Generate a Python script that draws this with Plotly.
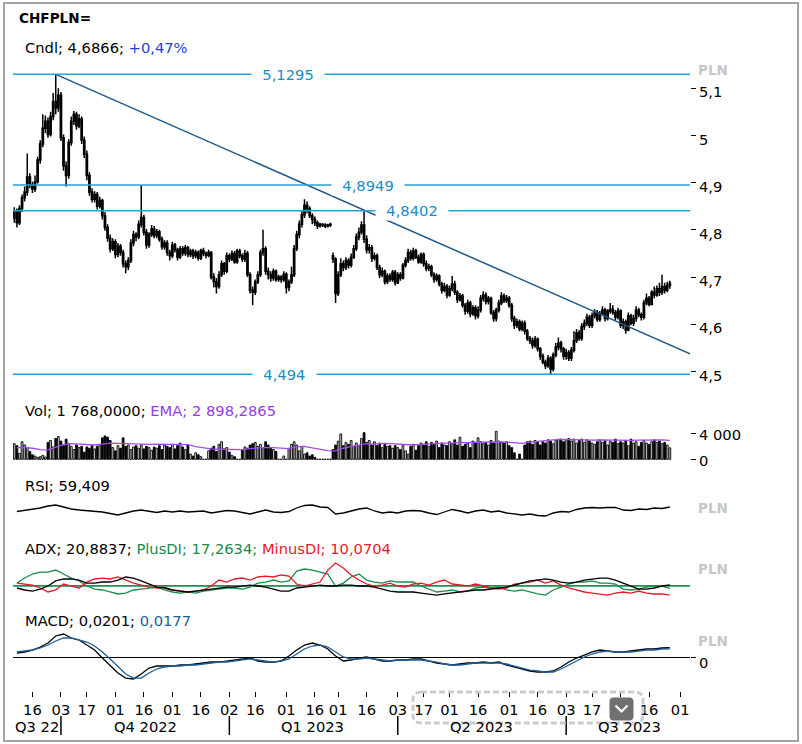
import pandas as pd
import plotly.graph_objects as go
from plotly.subplots import make_subplots

W, H = 802, 744

# ---------------- data ----------------
dates = pd.bdate_range("2022-09-07", "2023-08-28")

open_ = [
4.825,4.838,4.815,4.846,4.868,4.880,4.912,4.895,4.886,4.902,
4.948,4.982,5.015,5.030,5.002,5.040,5.072,5.058,5.085,4.995,
4.935,4.915,4.985,5.030,5.045,5.020,5.035,4.990,4.960,4.915,
4.880,4.865,4.875,4.850,4.862,4.830,4.805,4.782,4.760,4.775,
4.748,4.765,4.752,4.728,4.722,4.735,4.772,4.790,4.785,4.812,
4.826,4.795,4.768,4.790,4.802,4.788,4.796,4.780,4.764,4.772,
4.752,4.745,4.768,4.758,4.742,4.760,4.751,4.762,4.748,4.755,
4.745,4.752,4.740,4.756,4.750,4.746,4.752,4.700,4.690,4.680,
4.705,4.728,4.712,4.745,4.738,4.750,4.732,4.755,4.745,4.738,
4.750,4.705,4.672,4.668,4.690,4.705,4.752,4.760,4.712,4.705,
4.698,4.712,4.695,4.700,4.694,4.706,4.678,4.690,4.705,4.760,
4.790,4.812,4.832,4.852,4.845,4.830,4.822,4.815,4.808,4.812,
4.810,4.808,4.810,4.745,4.738,4.665,4.705,4.728,4.720,4.735,
4.725,4.742,4.760,4.785,4.795,4.810,4.780,4.758,4.762,4.740,
4.745,4.720,4.705,4.712,4.690,4.702,4.695,4.710,4.688,4.705,
4.698,4.725,4.735,4.752,4.740,4.755,4.742,4.732,4.748,4.728,
4.718,4.722,4.705,4.695,4.702,4.685,4.672,4.680,4.662,4.675,
4.685,4.668,4.652,4.660,4.640,4.628,4.645,4.622,4.635,4.618,
4.630,4.655,4.662,4.648,4.655,4.625,4.612,4.630,4.645,4.660,
4.650,4.655,4.640,4.612,4.598,4.605,4.590,4.602,4.585,4.570,
4.565,4.555,4.568,4.548,4.532,4.520,4.512,4.528,4.505,4.535,
4.552,4.560,4.548,4.532,4.540,4.528,4.545,4.565,4.582,4.570,
4.595,4.602,4.615,4.598,4.618,4.625,4.610,4.622,4.630,4.612,
4.628,4.632,4.625,4.615,4.628,4.598,4.605,4.588,4.618,4.602,
4.612,4.630,4.620,4.615,4.645,4.655,4.642,4.668,4.662,4.675,
4.668,4.680,4.672,4.682]

high = [
4.848,4.845,4.852,4.875,4.892,4.962,4.920,4.902,4.915,4.955,
4.990,5.045,5.042,5.038,5.050,5.090,5.1295,5.100,5.092,5.002,
4.945,4.992,5.040,5.052,5.050,5.045,5.040,4.998,4.968,4.922,
4.888,4.882,4.880,4.870,4.866,4.838,4.812,4.790,4.782,4.780,
4.772,4.770,4.758,4.735,4.742,4.780,4.798,4.795,4.820,4.8949,
4.832,4.802,4.795,4.810,4.808,4.802,4.800,4.786,4.778,4.778,
4.758,4.775,4.772,4.762,4.766,4.765,4.768,4.766,4.760,4.760,
4.758,4.756,4.760,4.762,4.754,4.758,4.755,4.708,4.698,4.712,
4.735,4.732,4.752,4.750,4.756,4.755,4.760,4.760,4.750,4.758,
4.755,4.710,4.680,4.695,4.712,4.758,4.800,4.765,4.720,4.712,
4.718,4.716,4.705,4.704,4.712,4.710,4.695,4.722,4.768,4.798,
4.820,4.840,4.865,4.860,4.850,4.835,4.828,4.820,4.815,4.814,
4.814,4.813,4.815,4.752,4.742,4.712,4.740,4.735,4.742,4.740,
4.750,4.768,4.792,4.805,4.818,4.8402,4.788,4.770,4.768,4.752,
4.750,4.726,4.720,4.716,4.708,4.708,4.715,4.715,4.710,4.710,
4.730,4.742,4.760,4.758,4.762,4.760,4.748,4.752,4.752,4.735,
4.728,4.726,4.710,4.708,4.706,4.690,4.688,4.685,4.682,4.702,
4.692,4.672,4.666,4.664,4.645,4.652,4.650,4.640,4.640,4.638,
4.662,4.670,4.668,4.660,4.658,4.630,4.635,4.652,4.668,4.665,
4.662,4.660,4.645,4.618,4.612,4.610,4.608,4.608,4.590,4.575,
4.572,4.575,4.572,4.552,4.538,4.525,4.535,4.532,4.540,4.560,
4.572,4.565,4.552,4.548,4.545,4.552,4.585,4.590,4.588,4.602,
4.610,4.622,4.620,4.625,4.632,4.630,4.628,4.638,4.635,4.632,
4.645,4.640,4.630,4.635,4.632,4.612,4.610,4.625,4.622,4.620,
4.638,4.635,4.625,4.652,4.665,4.660,4.672,4.680,4.682,4.688,
4.705,4.688,4.690,4.692]

low = [
4.815,4.805,4.810,4.838,4.860,4.872,4.888,4.878,4.880,4.898,
4.940,4.975,5.005,4.995,4.998,5.032,5.045,5.050,4.988,4.925,
4.892,4.908,4.978,5.022,5.012,5.015,4.982,4.952,4.905,4.872,
4.858,4.858,4.843,4.845,4.822,4.798,4.775,4.752,4.755,4.740,
4.742,4.745,4.720,4.708,4.715,4.730,4.765,4.776,4.780,4.805,
4.788,4.760,4.762,4.785,4.782,4.782,4.775,4.758,4.758,4.745,
4.735,4.740,4.752,4.735,4.738,4.745,4.745,4.742,4.742,4.738,
4.740,4.735,4.736,4.744,4.740,4.742,4.695,4.678,4.665,4.675,
4.700,4.705,4.708,4.732,4.734,4.728,4.728,4.740,4.732,4.732,
4.700,4.665,4.640,4.662,4.685,4.700,4.745,4.705,4.695,4.690,
4.692,4.690,4.690,4.688,4.690,4.665,4.670,4.685,4.700,4.755,
4.782,4.805,4.825,4.835,4.825,4.812,4.808,4.802,4.805,4.806,
4.804,4.805,4.806,4.730,4.645,4.660,4.700,4.712,4.715,4.718,
4.720,4.738,4.755,4.778,4.790,4.772,4.750,4.750,4.732,4.735,
4.715,4.698,4.700,4.684,4.685,4.690,4.690,4.682,4.685,4.692,
4.695,4.720,4.730,4.735,4.735,4.738,4.728,4.728,4.722,4.712,
4.712,4.700,4.688,4.690,4.680,4.665,4.668,4.655,4.658,4.670,
4.662,4.645,4.648,4.635,4.620,4.622,4.615,4.618,4.610,4.612,
4.625,4.648,4.642,4.642,4.620,4.605,4.606,4.625,4.640,4.645,
4.645,4.635,4.605,4.590,4.592,4.585,4.585,4.578,4.565,4.558,
4.548,4.550,4.542,4.525,4.515,4.505,4.508,4.494,4.500,4.530,
4.545,4.540,4.525,4.525,4.522,4.522,4.540,4.560,4.565,4.565,
4.588,4.596,4.592,4.592,4.612,4.605,4.605,4.618,4.606,4.608,
4.622,4.620,4.608,4.610,4.592,4.590,4.580,4.585,4.598,4.596,
4.605,4.615,4.608,4.610,4.640,4.638,4.640,4.655,4.658,4.660,
4.662,4.665,4.668,4.675]

close = [
4.838,4.815,4.846,4.868,4.880,4.912,4.895,4.886,4.902,4.948,
4.982,5.015,5.030,5.002,5.040,5.072,5.058,5.085,4.995,4.935,
4.915,4.985,5.030,5.045,5.020,5.035,4.990,4.960,4.915,4.880,
4.865,4.875,4.850,4.862,4.830,4.805,4.782,4.760,4.775,4.748,
4.765,4.752,4.728,4.722,4.735,4.772,4.790,4.785,4.812,4.826,
4.795,4.768,4.790,4.802,4.788,4.796,4.780,4.764,4.772,4.752,
4.745,4.768,4.758,4.742,4.760,4.751,4.762,4.748,4.755,4.745,
4.752,4.740,4.756,4.750,4.746,4.752,4.700,4.690,4.680,4.705,
4.728,4.712,4.745,4.738,4.750,4.732,4.755,4.745,4.738,4.750,
4.705,4.672,4.668,4.690,4.705,4.752,4.760,4.712,4.705,4.698,
4.712,4.695,4.700,4.694,4.706,4.678,4.690,4.705,4.760,4.790,
4.812,4.832,4.852,4.845,4.830,4.822,4.815,4.808,4.812,4.810,
4.808,4.810,4.812,4.738,4.665,4.705,4.728,4.720,4.735,4.725,
4.742,4.760,4.785,4.795,4.810,4.780,4.758,4.762,4.740,4.745,
4.720,4.705,4.712,4.690,4.702,4.695,4.710,4.688,4.705,4.698,
4.725,4.735,4.752,4.740,4.755,4.742,4.732,4.748,4.728,4.718,
4.722,4.705,4.695,4.702,4.685,4.672,4.680,4.662,4.675,4.685,
4.668,4.652,4.660,4.640,4.628,4.645,4.622,4.635,4.618,4.630,
4.655,4.662,4.648,4.655,4.625,4.612,4.630,4.645,4.660,4.650,
4.655,4.640,4.612,4.598,4.605,4.590,4.602,4.585,4.570,4.565,
4.555,4.568,4.548,4.532,4.520,4.512,4.528,4.505,4.535,4.552,
4.560,4.548,4.532,4.540,4.528,4.545,4.565,4.582,4.570,4.595,
4.602,4.615,4.598,4.618,4.625,4.610,4.622,4.630,4.612,4.628,
4.632,4.625,4.615,4.628,4.598,4.605,4.588,4.618,4.602,4.612,
4.630,4.620,4.615,4.645,4.655,4.642,4.668,4.662,4.675,4.668,
4.680,4.672,4.682,4.687]

volume = [
2400,2100,900,2700,2200,1800,1200,700,500,300,
400,600,350,2600,2900,1900,3200,3500,2800,2100,
3100,2400,2000,1500,2200,1800,2000,1100,1900,1700,
2100,1600,2000,2300,3300,3600,3400,2900,1800,1300,
2100,1700,3300,2000,2200,1500,1900,2100,1700,2200,
1600,2000,1800,1400,1900,1700,2100,1500,2200,2000,
1800,2300,1600,2100,2500,1900,1500,2200,800,500,
1000,700,400,0,0,1300,1700,2000,1200,2300,
2700,1600,1800,1100,600,400,0,0,1500,1900,
1700,2200,2400,2600,2000,2300,1800,2700,2200,1700,
1500,1200,0,0,500,0,1700,2300,2700,2200,
1300,2000,800,1000,500,700,300,0,0,0,
0,0,0,1500,2200,2800,3900,2100,2600,2300,
2900,2000,2500,2100,3200,4100,2600,2900,2200,2700,
2100,2500,1800,2300,2000,2100,1700,2100,1800,1500,
2100,1300,800,2000,2300,1400,2100,2500,2200,2700,
2000,2600,2300,2800,1800,2500,2200,2100,2700,2400,
3000,2200,3400,2000,2300,2500,1800,2800,2600,3300,
2700,2400,2600,2200,2900,2500,4300,2800,2600,2500,
2700,2100,1800,1000,0,800,0,2200,2700,2800,
2300,2900,2600,2200,2700,2500,3000,2800,2400,2900,
3100,3100,2700,3000,3200,2800,3100,2500,2900,3100,
2600,3000,2800,2500,2300,2700,3000,2600,2900,2200,
2800,2600,3100,2400,2700,2500,2900,2100,3100,2500,
2700,2000,2600,2900,2500,2300,2700,3000,2600,2800,
2400,2600,2200,1768]

# indicator lines, read every third session
line_dates = dates[1::3]

vol_ema = [
1800,1850,1700,1500,1450,1900,2250,2400,2350,2250,
2200,2350,2500,2450,2400,2350,2400,2300,2350,2300,
2350,2300,2250,1950,1750,1600,1550,1500,1450,1500,
1650,1800,1850,1800,1750,1650,1900,2000,1750,1500,
1350,1300,1700,1950,2150,2400,2350,2450,2400,2350,
2250,2200,2300,2400,2450,2500,2500,2600,2550,2600,
2700,2650,2700,2650,2500,2450,2650,2800,2900,3000,
3050,3000,3050,3000,2950,3000,2950,3000,2950,2900,
2950,3000,3050,3000,2898]

rsi = [
50.4,52.4,55.4,57.4,61.4,63.4,59.4,55.4,53.4,52.4,
51.4,49.4,46.4,43.4,47.4,51.4,53.4,50.4,48.4,51.4,
49.4,51.4,49.4,50.4,51.4,47.4,49.4,52.4,51.4,48.4,
45.4,49.4,53.4,49.4,48.4,50.4,57.4,62.4,63.4,59.4,
58.4,45.4,47.4,51.4,55.4,57.4,51.4,47.4,49.4,47.4,
51.4,52.4,51.4,47.4,44.4,49.4,54.4,51.4,47.4,51.4,
53.4,49.4,51.4,47.4,45.4,43.4,45.4,42.4,41.4,47.4,
50.4,49.4,54.4,57.4,58.4,57.4,58.4,58.4,53.4,52.4,
55.4,54.4,57.4,56.4,59.4]

adx = [
17.7,15.6,14.5,16.6,19.8,25.1,27.2,27.2,26.1,22.9,
22.9,24.0,24.0,26.1,29.3,28.2,25.1,21.9,18.7,17.7,
15.6,14.5,13.5,14.5,15.6,16.6,17.7,18.7,18.7,19.8,
20.8,19.8,18.7,16.6,14.5,14.5,17.7,18.7,19.8,20.8,
19.8,19.8,20.8,20.8,19.8,19.8,18.7,16.6,14.5,13.5,
13.5,13.5,12.4,11.4,10.3,11.4,12.4,13.5,14.5,15.6,
15.6,16.6,17.7,18.7,20.8,22.9,25.1,26.1,27.2,26.1,
24.0,22.9,24.0,26.1,27.2,28.2,28.2,26.1,22.9,19.8,
16.6,16.6,17.7,19.8,20.9]

plus_di = [
22.9,28.2,32.4,34.5,34.5,36.6,32.4,28.2,25.1,19.8,
16.6,15.6,13.5,11.4,12.4,15.6,16.6,17.7,18.7,15.6,
13.5,12.4,13.5,12.4,14.5,15.6,16.6,17.7,17.7,16.6,
18.7,22.9,24.0,26.1,24.0,25.1,35.6,37.7,36.6,34.5,
32.4,19.8,22.9,29.3,32.4,26.1,24.0,22.9,25.1,24.0,
24.0,24.0,19.8,16.6,13.5,14.5,15.6,13.5,14.5,17.7,
18.7,17.7,18.7,15.6,14.5,15.6,13.5,11.4,10.3,15.6,
18.7,21.9,24.0,24.0,25.1,22.9,22.9,21.9,16.6,15.6,
16.6,18.7,19.8,19.8,17.3]

minus_di = [
22.9,21.9,20.8,17.7,13.5,15.6,21.9,19.8,17.7,24.0,
27.2,28.2,27.2,29.3,26.1,22.9,20.8,18.7,17.7,18.7,
15.6,14.5,13.5,14.5,15.6,19.8,26.1,24.0,27.2,28.2,
26.1,29.3,30.3,29.3,31.4,30.3,21.9,19.8,21.9,24.0,
36.6,44.0,38.8,31.4,26.1,21.9,19.8,20.8,22.9,19.8,
18.7,21.9,22.9,20.8,24.0,26.1,21.9,20.8,19.8,21.9,
19.8,17.7,16.6,17.7,21.9,22.9,24.0,26.1,22.9,25.1,
20.8,17.7,15.6,13.5,12.4,11.4,10.3,12.4,13.5,12.4,
14.5,12.4,11.4,11.4,10.1]

macd = [
0.0087,0.0109,0.0152,0.0217,0.0304,0.0457,0.0500,0.0413,0.0370,0.0261,
0.0152,-0.0022,-0.0196,-0.0348,-0.0457,-0.0478,-0.0370,-0.0239,-0.0196,-0.0196,
-0.0196,-0.0174,-0.0174,-0.0152,-0.0130,-0.0109,-0.0109,-0.0087,-0.0065,-0.0043,
-0.0022,-0.0087,-0.0109,-0.0109,-0.0087,0.0022,0.0152,0.0261,0.0304,0.0261,
0.0174,0.0022,-0.0087,-0.0065,-0.0022,0.0000,-0.0043,-0.0087,-0.0087,-0.0065,
-0.0065,-0.0043,-0.0043,-0.0087,-0.0130,-0.0152,-0.0174,-0.0152,-0.0130,-0.0130,
-0.0109,-0.0130,-0.0109,-0.0174,-0.0217,-0.0261,-0.0304,-0.0326,-0.0326,-0.0304,
-0.0217,-0.0109,-0.0022,0.0043,0.0109,0.0152,0.0130,0.0109,0.0109,0.0130,
0.0152,0.0174,0.0174,0.0196,0.0201]

macd_signal = [
0.0109,0.0130,0.0152,0.0196,0.0261,0.0348,0.0413,0.0413,0.0370,0.0326,
0.0239,0.0109,-0.0043,-0.0217,-0.0370,-0.0457,-0.0457,-0.0348,-0.0261,-0.0217,
-0.0196,-0.0196,-0.0174,-0.0174,-0.0152,-0.0130,-0.0109,-0.0109,-0.0087,-0.0065,
-0.0043,-0.0065,-0.0087,-0.0109,-0.0087,-0.0043,0.0065,0.0174,0.0239,0.0261,
0.0217,0.0109,0.0000,-0.0043,-0.0043,-0.0022,-0.0043,-0.0065,-0.0087,-0.0065,
-0.0065,-0.0065,-0.0065,-0.0087,-0.0109,-0.0152,-0.0174,-0.0174,-0.0152,-0.0130,
-0.0130,-0.0130,-0.0130,-0.0152,-0.0196,-0.0239,-0.0283,-0.0304,-0.0326,-0.0326,
-0.0261,-0.0174,-0.0087,0.0000,0.0065,0.0109,0.0130,0.0109,0.0109,0.0109,
0.0130,0.0152,0.0152,0.0174,0.0177]

levels = [5.1295, 4.8949, 4.8402, 4.494]
level_labels = ["5,1295", "4,8949", "4,8402", "4,494"]
trend_x = ["2022-09-29", "2023-09-06 19:00"]
trend_y = [5.1295, 4.5375]
adx_ref_level = 20

price_ticks = [4.5, 4.6, 4.7, 4.8, 4.9, 5.0, 5.1]
price_tick_text = ["4,5", "4,6", "4,7", "4,8", "4,9", "5", "5,1"]
vol_ticks = [0, 4000]
vol_tick_text = ["0", "4 000"]
x_tick_dates = ["2022-09-16", "2022-10-03", "2022-10-17", "2022-11-01", "2022-11-16",
                "2022-12-01", "2022-12-16", "2023-01-02", "2023-01-16", "2023-02-01",
                "2023-02-16", "2023-03-01", "2023-03-16", "2023-04-03", "2023-04-17",
                "2023-05-01", "2023-05-16", "2023-06-01", "2023-06-16", "2023-07-03",
                "2023-07-17", "2023-08-01", "2023-08-16", "2023-09-01"]
x_tick_text = ["16", "03", "17", "01", "16", "01", "16", "02", "16", "01", "16", "01",
               "16", "03", "17", "01", "16", "01", "16", "03", "17", "01", "16", "01"]
quarter_starts = ["2022-10-03", "2023-01-02", "2023-04-03", "2023-07-03"]
quarter_labels = ["Q3 22", "Q4 2022", "Q1 2023", "Q2 2023", "Q3 2023"]

assert len(dates) == len(open_) == len(high) == len(low) == len(close) == len(volume)
for arr in (vol_ema, rsi, adx, plus_di, minus_di, macd, macd_signal):
    assert len(arr) == len(line_dates), len(arr)

# ---------------- layout helpers ----------------
def px(x):
    return x / W


def py(y):
    return 1 - y / H


FONT = "DejaVu Sans"
FS = 14.7
X0, X1 = 13, 690
LEVEL_COLOR = "#2a9fd3"
LEVEL_TEXT = "#1b8cc4"

fig = make_subplots(rows=5, cols=1, shared_xaxes=True, vertical_spacing=0.0)

fig.add_trace(go.Candlestick(
    x=dates, open=open_, high=high, low=low, close=close,
    increasing=dict(line=dict(color="black", width=1.5), fillcolor="white"),
    decreasing=dict(line=dict(color="black", width=1.5), fillcolor="black"),
    whiskerwidth=0, showlegend=False, hoverinfo="skip"), row=1, col=1)
fig.add_trace(go.Scatter(x=trend_x, y=trend_y, mode="lines",
                         line=dict(color="#1f5a8a", width=1.5), hoverinfo="skip"), row=1, col=1)

vol_colors = ["#d4d4d4" if c >= o else "black" for o, c in zip(open_, close)]
fig.add_trace(go.Bar(x=dates, y=volume, marker=dict(color=vol_colors, line=dict(color="black", width=0.9)),
                     hoverinfo="skip"), row=2, col=1)
fig.add_trace(go.Scatter(x=line_dates, y=vol_ema, mode="lines",
                         line=dict(color="#a04cf0", width=1.3), hoverinfo="skip"), row=2, col=1)

fig.add_trace(go.Scatter(x=line_dates, y=rsi, mode="lines",
                         line=dict(color="black", width=1.3), hoverinfo="skip"), row=3, col=1)

fig.add_trace(go.Scatter(x=line_dates, y=plus_di, mode="lines",
                         line=dict(color="#1b8a4c", width=1.3), hoverinfo="skip"), row=4, col=1)
fig.add_trace(go.Scatter(x=line_dates, y=minus_di, mode="lines",
                         line=dict(color="#e8192c", width=1.3), hoverinfo="skip"), row=4, col=1)
fig.add_trace(go.Scatter(x=line_dates, y=adx, mode="lines",
                         line=dict(color="black", width=1.3), hoverinfo="skip"), row=4, col=1)

fig.add_trace(go.Scatter(x=line_dates, y=macd, mode="lines",
                         line=dict(color="black", width=1.3), hoverinfo="skip"), row=5, col=1)
fig.add_trace(go.Scatter(x=line_dates, y=macd_signal, mode="lines",
                         line=dict(color="#1f5c99", width=1.3), hoverinfo="skip"), row=5, col=1)

# pane geometry in pixels (top, bottom)
panes = {1: (62, 388), 2: (422, 462), 3: (478, 538), 4: (558, 603), 5: (626, 691)}

fig.update_layout(
    template="none",
    width=W, height=H, margin=dict(l=0, r=0, t=0, b=0, pad=0, autoexpand=False), autosize=False,
    paper_bgcolor="white", plot_bgcolor="white", showlegend=False, hovermode=False,
    font=dict(family=FONT, size=FS, color="black"), bargap=0.3,
    xaxis_rangeslider_visible=False,
)

fig.update_xaxes(domain=[px(X0), px(X1)], range=["2022-09-06 12:00", "2023-09-06 19:00"],
                 rangebreaks=[dict(bounds=["sat", "mon"])], showgrid=False, zeroline=False,
                 showline=False, showticklabels=False, ticks="", automargin=False)
fig.update_xaxes(row=5, col=1, showticklabels=True, ticks="outside", ticklen=5, tickwidth=1,
                 tickcolor="black", tickvals=x_tick_dates, ticktext=x_tick_text,
                 tickfont=dict(family=FONT, size=FS, color="black"))

ycommon = dict(showgrid=False, zeroline=False, showline=False, side="right", fixedrange=True,
               automargin=False)
for r, (t, b) in panes.items():
    fig.update_yaxes(row=r, col=1, domain=[py(b), py(t)], **ycommon)

fig.update_yaxes(row=1, col=1, range=[4.4649, 5.1556], tickvals=price_ticks, ticktext=price_tick_text,
                 ticks="outside", ticklen=5, tickcolor="black", ticklabelshift=4,
                 tickfont=dict(family=FONT, size=FS))
fig.update_yaxes(row=2, col=1, range=[-415, 5738], tickvals=vol_ticks, ticktext=vol_tick_text,
                 ticks="outside", ticklen=5, tickcolor="black", ticklabelshift=2,
                 tickfont=dict(family=FONT, size=FS))
fig.update_yaxes(row=3, col=1, range=[-2.6, 117.4], showticklabels=False, ticks="")
fig.update_yaxes(row=4, col=1, range=[1.9, 49.3], showticklabels=False, ticks="")
fig.update_yaxes(row=5, col=1, range=[-0.0739, 0.0674], tickvals=[0], ticktext=["0"],
                 ticks="outside", ticklen=5, tickcolor="black", ticklabelshift=6,
                 zeroline=True, zerolinecolor="black", zerolinewidth=1,
                 tickfont=dict(family=FONT, size=FS))

shapes = []
for lv in levels:
    shapes.append(dict(type="line", xref="paper", yref="y", x0=px(X0), x1=px(X1), y0=lv, y1=lv,
                       line=dict(color=LEVEL_COLOR, width=1.5), layer="above"))
shapes.append(dict(type="line", xref="paper", yref="y4", x0=px(X0), x1=px(X1),
                   y0=adx_ref_level, y1=adx_ref_level, line=dict(color="#1e8f55", width=1.8), layer="below"))
for q in quarter_starts:
    shapes.append(dict(type="line", xref="x5", yref="paper", x0=q, x1=q, y0=py(735), y1=py(716),
                       line=dict(color="black", width=1.5)))


def rrect_path(x0, y0, x1, y1, r):
    pts = [
        ("M", (x0 + r, y0)), ("L", (x1 - r, y0)), ("Q", (x1, y0), (x1, y0 + r)),
        ("L", (x1, y1 - r)), ("Q", (x1, y1), (x1 - r, y1)), ("L", (x0 + r, y1)),
        ("Q", (x0, y1), (x0, y1 - r)), ("L", (x0, y0 + r)), ("Q", (x0, y0), (x0 + r, y0)),
    ]
    out = []
    for item in pts:
        cmd = item[0]
        coords = " ".join(f"{px(a):.5f},{py(b):.5f}" for a, b in item[1:])
        out.append(f"{cmd} {coords}")
    return " ".join(out) + " Z"


# outer frame
shapes.append(dict(type="rect", xref="paper", yref="paper", x0=px(4), x1=px(798), y0=py(741), y1=py(3),
                   line=dict(color="#a4a4a4", width=2), fillcolor="rgba(0,0,0,0)"))
# dashed navigator box
shapes.append(dict(type="path", xref="paper", yref="paper", path=rrect_path(413, 692, 643, 723, 8),
                   line=dict(color="#cbcbcb", width=3, dash="6px,3px"), fillcolor="rgba(0,0,0,0)"))
# scroll button
shapes.append(dict(type="path", xref="paper", yref="paper", path=rrect_path(610, 698, 633, 720, 3),
                   line=dict(color="#707070", width=1), fillcolor="#707070"))
shapes.append(dict(type="path", xref="paper", yref="paper",
                   path=f"M {px(615.5)},{py(705.5)} L {px(621.5)},{py(711.5)} L {px(627.5)},{py(705.5)}",
                   line=dict(color="white", width=2.2)))

ann = []


def text(x, y, s, size=FS, color="black", anchor="left", bold=False, **kw):
    if bold:
        s = f"<b>{s}</b>"
    ann.append(dict(x=px(x), y=py(y), xref="paper", yref="paper", text=s, showarrow=False,
                    xanchor=anchor, yanchor="middle", font=dict(family=FONT, size=size, color=color), **kw))


text(17, 18, "CHFPLN=", size=13.6, bold=True)
text(23, 48, "Cndl; 4,6866; <span style='color:#1f3fd6'>+0,47%</span>")
text(23, 411, "Vol; 1 768,0000; <span style='color:#9a3ae6'>EMA; 2 898,2865</span>")
text(23, 485, "RSI; 59,409")
text(23, 548, "ADX; 20,8837; <span style='color:#1b8a4c'>PlusDI; 17,2634;</span> "
              "<span style='color:#e8192c'>MinusDI; 10,0704</span>")
text(23, 620, "MACD; 0,0201; <span style='color:#1f5c99'>0,0177</span>")

for yy in (70, 508, 569, 641):
    text(713, yy, "PLN", size=13.5, color="#c6c6c6", anchor="center", bold=True)

# level labels
for lv, lab, xpix in zip(levels, level_labels, [288, 368, 412, 284]):
    ann.append(dict(x=px(xpix), y=lv, xref="paper", yref="y", text="&nbsp;&nbsp;" + lab + "&nbsp;&nbsp;",
                    showarrow=False, xanchor="center", yanchor="middle", bgcolor="white", borderpad=1,
                    font=dict(family=FONT, size=FS, color=LEVEL_TEXT)))

# quarter labels
text(13, 726, quarter_labels[0])
for lab, xpix in zip(quarter_labels[1:], [145, 312, 481, 629]):
    text(xpix, 726, lab, anchor="center")

fig.update_layout(shapes=shapes, annotations=ann)

page_js = (
    "var h=document.documentElement,b=document.body;"
    "[h,b].forEach(function(e){e.style.margin='0';e.style.padding='0';"
    "e.style.overflow='hidden';e.style.width='802px';e.style.height='744px';});"
)
fig.write_html("out.html", config={"displayModeBar": False, "responsive": False},
               post_script=page_js)
